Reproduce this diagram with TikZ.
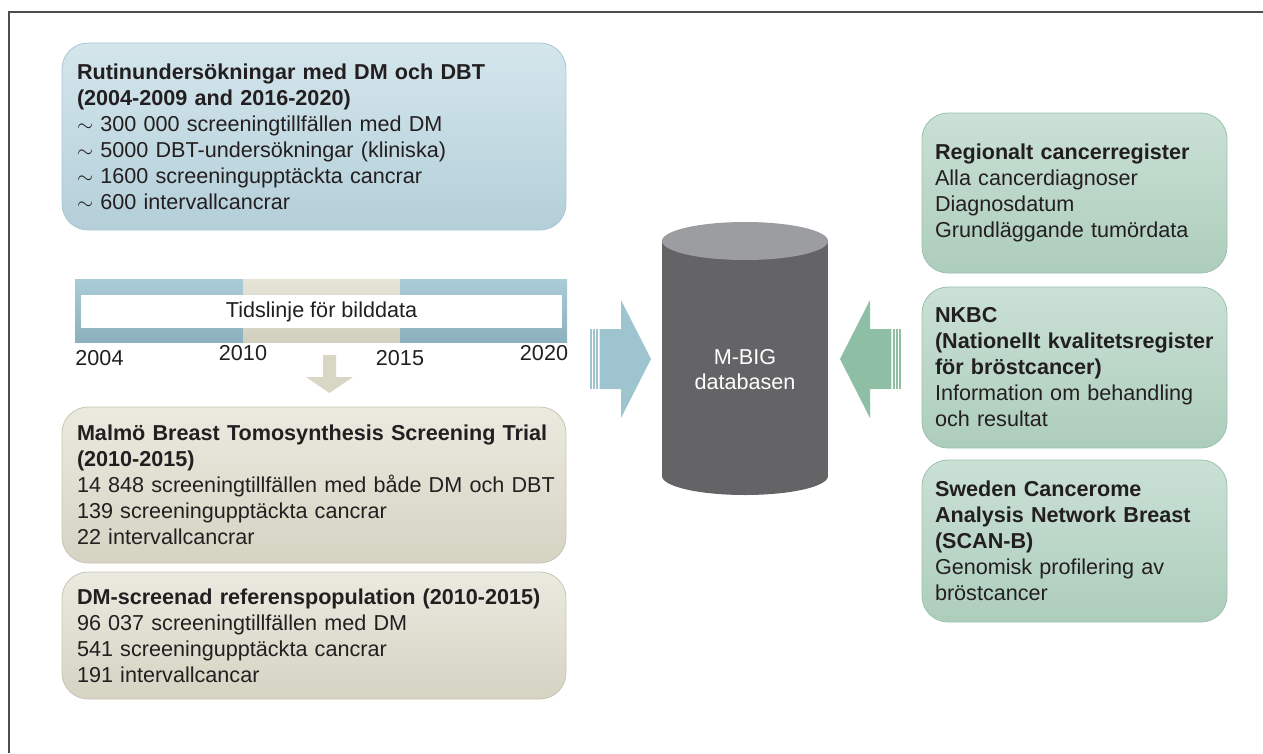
\documentclass[tikz,border=0pt]{standalone}
\usepackage{fontspec}
\setmainfont{Liberation Sans}
\usetikzlibrary{shapes,positioning}

\definecolor{blueTop}{HTML}{D4E6EC}
\definecolor{blueBot}{HTML}{B4CFD9}
\definecolor{blueEdge}{HTML}{A8C7D2}
\definecolor{beigeTop}{HTML}{EBEAE0}
\definecolor{beigeBot}{HTML}{D5D3C2}
\definecolor{beigeEdge}{HTML}{C8C6B4}
\definecolor{greenTop}{HTML}{CAE1D5}
\definecolor{greenBot}{HTML}{ADCDBC}
\definecolor{greenEdge}{HTML}{9CC1AE}
\definecolor{tlBlueTop}{HTML}{AACCD7}
\definecolor{tlBlueBot}{HTML}{8CB0BD}
\definecolor{tlBeigeTop}{HTML}{E5E4D7}
\definecolor{tlBeigeBot}{HTML}{D1CFBD}
\definecolor{arrowBlue}{HTML}{9EC4D0}
\definecolor{arrowGreen}{HTML}{8EBFA5}
\definecolor{arrowBeige}{HTML}{D8D6C4}
\definecolor{dbBody}{HTML}{646466}
\definecolor{dbTop}{HTML}{9C9DA0}
\definecolor{txt}{HTML}{231F20}
\definecolor{frameGray}{HTML}{4D4D4D}

\begin{document}
\begin{tikzpicture}[x=1pt, y=-1pt, font=\fontsize{21.6}{26}\selectfont, text=txt]
  \tikzstyle{box}=[rectangle, rounded corners=26pt, line width=0.8pt, inner xsep=15pt, align=left]
  \tikzstyle{bluebox}=[box, draw=blueEdge, top color=blueTop, bottom color=blueBot, text width=474pt]
  \tikzstyle{beigebox}=[box, draw=beigeEdge, top color=beigeTop, bottom color=beigeBot, text width=474pt]
  \tikzstyle{greenbox}=[box, draw=greenEdge, top color=greenTop, bottom color=greenBot, inner xsep=13pt, text width=279pt]
  \tikzstyle{year}=[inner sep=0pt]

  \useasboundingbox (0,0) rectangle (1263,753);
  \draw[frameGray, line width=1.3pt] (9,753) -- (9,12) -- (1263,12);

  % Rutinundersökningar
  \node[bluebox, minimum height=187pt] (rutin) at (314,136.5) {\textbf{Rutinundersökningar med DM och DBT}\\\textbf{(2004-2009 and 2016-2020)}\\$\sim$ 300 000 screeningtillfällen med DM\\$\sim$ 5000 DBT-undersökningar (kliniska)\\$\sim$ 1600 screeninguppt\"ackta cancrar\\$\sim$ 600 intervallcancrar};

  % Tidslinje
  \shade[top color=tlBlueTop, bottom color=tlBlueBot] (75,279) rectangle (243,342);
  \shade[top color=tlBeigeTop, bottom color=tlBeigeBot] (243,279) rectangle (400,342);
  \shade[top color=tlBlueTop, bottom color=tlBlueBot] (400,279) rectangle (567,342);
  \node[fill=white, minimum width=481pt, minimum height=33pt, inner sep=0pt] (tl) at (321.5,311.5) {Tidslinje för bilddata};
  \node[year] (y2004) at (99.5,358) {2004};
  \node[year] (y2010) at (243,353) {2010};
  \node[year] (y2015) at (400,358) {2015};
  \node[year] (y2020) at (544,353) {2020};
  \fill[arrowBeige] (323,355) -- (336,355) -- (336,377) -- (353,377) -- (329.5,393) -- (306,377) -- (323,377) -- cycle;

  % Malmö-studien och referenspopulationen
  \node[beigebox, minimum height=156pt] (mbtst) at (314,485) {\textbf{Malmö Breast Tomosynthesis Screening Trial}\\\textbf{(2010-2015)}\\\mbox{14 848 screeningtillfällen med både DM och DBT}\\139 screeninguppt\"ackta cancrar\\22 intervallcancrar};
  \node[beigebox, minimum height=127pt] (ref) at (314,635.5) {\textbf{DM-screenad referenspopulation (2010-2015)}\\96 037 screeningtillfällen med DM\\541 screeninguppt\"ackta cancrar\\191 intervallcancar};

  % Databasen
  \fill[dbBody] (662,241) rectangle (828,476);
  \fill[dbBody] (745,476) ellipse (83 and 19);
  \fill[dbTop] (745,241) ellipse (83 and 19);
  \node[text=white, align=center, font=\fontsize{21.6}{25}\selectfont] (db) at (745,370) {M-BIG\\databasen};

  % Pilar in mot databasen
  \fill[arrowBlue] (599.6,329) -- (621,329) -- (621,300) -- (651,359) -- (621,418) -- (621,389) -- (599.6,389) -- cycle;
  \fill[arrowBlue] (590,329) rectangle (591.7,389);
  \fill[arrowBlue] (593.2,329) rectangle (594.9,389);
  \fill[arrowBlue] (596.4,329) rectangle (598.1,389);
  \fill[arrowGreen] (891.4,329) -- (870,329) -- (870,300) -- (840,359) -- (870,418) -- (870,389) -- (891.4,389) -- cycle;
  \fill[arrowGreen] (901,329) rectangle (899.3,389);
  \fill[arrowGreen] (897.8,329) rectangle (896.1,389);
  \fill[arrowGreen] (894.6,329) rectangle (892.9,389);

  % Register
  \node[greenbox, minimum height=160pt] (rcr) at (1074.5,193) {\textbf{Regionalt cancerregister}\\Alla cancerdiagnoser\\Diagnosdatum\\Grundläggande tumördata};
  \node[greenbox, minimum height=161pt] (nkbc) at (1074.5,367.5) {\textbf{NKBC}\\\textbf{(Nationellt kvalitetsregister}\\\textbf{för bröstcancer)}\\Information om behandling\\och resultat};
  \node[greenbox, minimum height=162pt] (scanb) at (1074.5,541) {\textbf{Sweden Cancerome}\\\textbf{Analysis Network Breast}\\\textbf{(SCAN-B)}\\Genomisk profilering av\\bröstcancer};
\end{tikzpicture}
\end{document}
